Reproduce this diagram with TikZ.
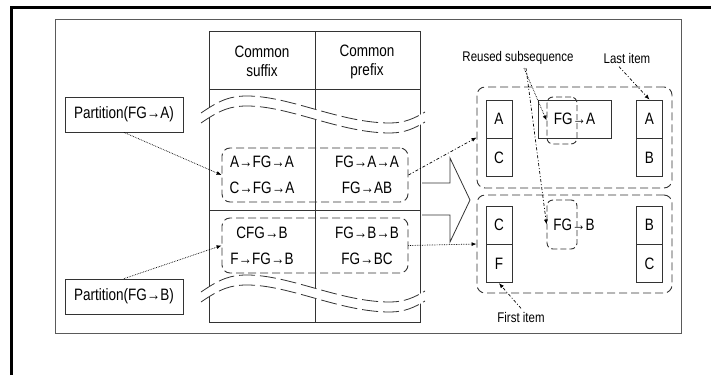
\documentclass[tikz,border=0pt]{standalone}
\usepackage{fontspec}
\setmainfont{Liberation Sans}[FakeStretch=0.82]
\usetikzlibrary{arrows.meta,positioning}
\definecolor{linegray}{HTML}{333333}
\definecolor{framegray}{HTML}{5A5A5A}

\tikzset{
  cellbox/.style={draw=linegray, line width=0.8pt, minimum width=26pt, minimum height=38pt, inner sep=0pt},
  dashbox/.style={draw=linegray, line width=0.9pt, dash pattern=on 8pt off 4pt, rounded corners=8pt, inner sep=0pt},
  partbox/.style={draw=linegray, line width=0.8pt, minimum width=118pt, minimum height=35pt, inner sep=0pt},
  dotarrow/.style={densely dotted, line width=0.7pt, -{Latex[length=5pt,width=4pt]}},
  dasharrow/.style={dash pattern=on 3pt off 2pt on 1pt off 2pt, line width=0.7pt, -{Latex[length=5pt,width=4pt]}},
  lbl/.style={font=\fontsize{14}{16}\selectfont},
}

\begin{document}
\begin{tikzpicture}[x=1pt, y=-1pt, font=\fontsize{16.5}{19}\selectfont]
  \useasboundingbox (0,0) rectangle (711,375);
  % Frames
  \draw[line width=3pt] (11,375) -- (11,7) -- (711,7);
  \draw[framegray, line width=1pt] (55,19) rectangle (681,333);
  % Table
  \draw[linegray, line width=0.8pt] (209,31) rectangle (420,322);
  \draw[linegray, line width=0.8pt] (315,31) -- (315,322);
  \draw[linegray, line width=0.8pt] (209,89) -- (420,89);
  \draw[linegray, line width=0.8pt] (209,210) -- (420,210);
  \node[align=center] (hsuf) at (262,61.5) {Common\\suffix};
  \node[align=center] (hpre) at (367,61.5) {Common\\prefix};
  % Break lines
  \foreach \dy in {0,179} {
    \begin{scope}[shift={(0,\dy)}]
      \fill[white] (201,113) .. controls (220,100) and (230,96) .. (247,96)
        .. controls (290,96) and (340,123) .. (390,123)
        .. controls (405,123) and (415,118) .. (425,112) -- (425,122)
        .. controls (415,128) and (405,133) .. (390,133)
        .. controls (340,133) and (290,106) .. (247,106)
        .. controls (230,106) and (220,110) .. (201,123) -- cycle;
      \draw[linegray, line width=0.8pt, dash pattern=on 16pt off 5pt]
        (201,113) .. controls (220,100) and (230,96) .. (247,96)
        .. controls (290,96) and (340,123) .. (390,123)
        .. controls (405,123) and (415,118) .. (425,112);
      \draw[linegray, line width=0.8pt, dash pattern=on 16pt off 5pt]
        (201,123) .. controls (220,110) and (230,106) .. (247,106)
        .. controls (290,106) and (340,133) .. (390,133)
        .. controls (405,133) and (415,128) .. (425,122);
    \end{scope}
  }
  % Groups in the table
  \node[dashbox, minimum width=186pt, minimum height=54pt] (grpA) at (315,175) {};
  \node[dashbox, minimum width=186pt, minimum height=55pt] (grpB) at (315,245.5) {};
  \node (sA1) at (262,162) {A→FG→A};
  \node (sA2) at (262,188) {C→FG→A};
  \node (pA1) at (367,162) {FG→A→A};
  \node (pA2) at (367,188) {FG→AB};
  \node (sB1) at (262,233) {CFG→B};
  \node (sB2) at (262,259) {F→FG→B};
  \node (pB1) at (367,233) {FG→B→B};
  \node (pB2) at (367,259) {FG→BC};
  % Partitions
  \node[partbox] (partA) at (124,114.5) {Partition(FG→A)};
  \node[partbox] (partB) at (124,296.5) {Partition(FG→B)};
  \draw[dotarrow] (partA.south) -- (grpA.west);
  \draw[dotarrow] (partB.north) -- (grpB.west);
  % Big arrow
  \draw[linegray, line width=0.8pt] (422,183) -- (450,183) -- (450,158) -- (470,200)
    -- (450,242) -- (450,215) -- (422,215);
  % Right sets
  \node[dashbox, minimum width=195pt, minimum height=101pt] (setA) at (574.5,137.5) {};
  \node[dashbox, minimum width=195pt, minimum height=98pt] (setB) at (574.5,244) {};
  \draw[dasharrow] (grpA.east) -- (setA.west);
  \draw[dotarrow] (grpB.east) -- (setB.west);
  \node[cellbox] (a1) at (499,119) {A};
  \node[cellbox, below=0pt of a1] (a2) {C};
  \node[cellbox] (z1) at (649.5,119) {A};
  \node[cellbox, below=0pt of z1] (z2) {B};
  \node[cellbox] (b1) at (499,225) {C};
  \node[cellbox, below=0pt of b1] (b2) {F};
  \node[cellbox] (y1) at (649.5,225) {B};
  \node[cellbox, below=0pt of y1] (y2) {C};
  \node[cellbox, minimum width=73pt] (seqA) at (574.5,119) {FG→A};
  \node (seqB) at (574,225) {FG→B};
  \node[dashbox, rounded corners=6pt, dash pattern=on 6pt off 3pt, minimum width=30pt, minimum height=47pt] (fgA) at (562,120.5) {};
  \node[dashbox, rounded corners=6pt, dash pattern=on 6pt off 3pt, minimum width=30pt, minimum height=49pt] (fgB) at (562,224.5) {};
  % Labels
  \node[lbl] (reused) at (518,58) {Reused subsequence};
  \node[lbl] (last) at (627,58) {Last item};
  \node[lbl] (first) at (521,317) {First item};
  \draw[dotarrow] ([xshift=6pt]reused.south) -- (fgA.west);
  \draw[dasharrow] ([xshift=8pt]reused.south) -- (fgB.west);
  \draw[dasharrow] ([xshift=-8pt]last.south) -- (z1.north);
  \draw[dasharrow] (first.north) -- (b2.south);
\end{tikzpicture}
\end{document}
